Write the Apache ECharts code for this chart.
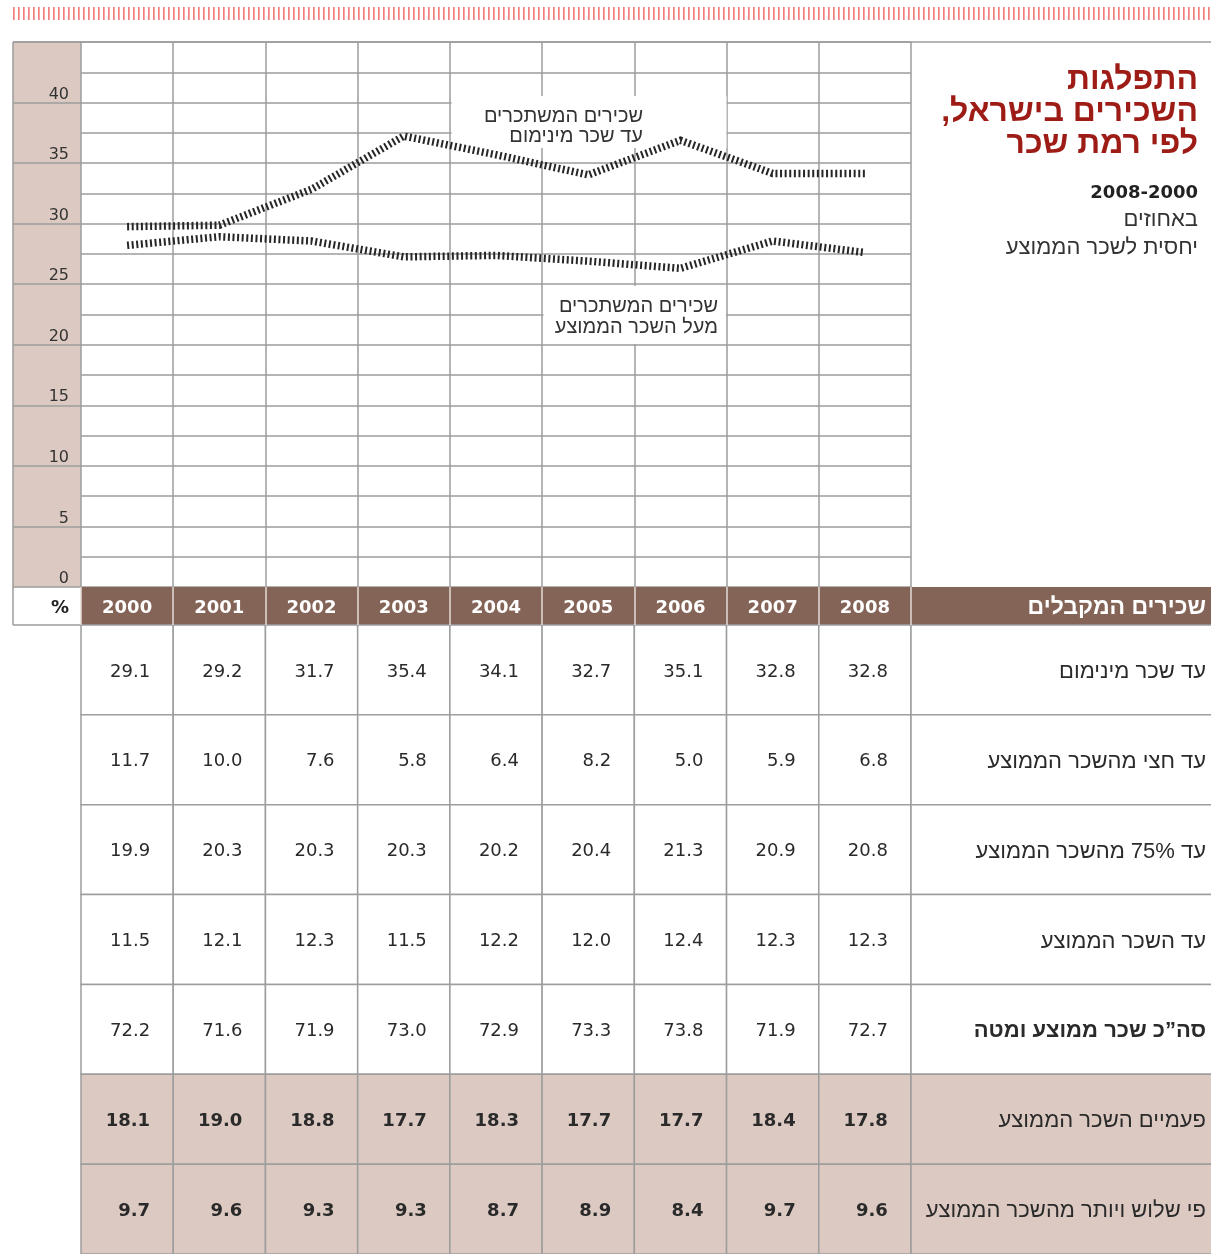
<!DOCTYPE html>
<html><head><meta charset="utf-8">
<script src="https://cdn.jsdelivr.net/npm/echarts@6/dist/echarts.min.js"></script>
<style>html,body{margin:0;padding:0;background:#fff}#c{width:1211px;height:1254px}</style>
</head><body><div id="c" dir="rtl"></div>
<script>
// ---------- data ----------
const years = ['2000','2001','2002','2003','2004','2005','2006','2007','2008'];
const minWage    = [29.1, 29.2, 31.7, 35.4, 34.1, 32.7, 35.1, 32.8, 32.8];
const halfAvg    = [11.7, 10.0, 7.6, 5.8, 6.4, 8.2, 5.0, 5.9, 6.8];
const upTo75     = [19.9, 20.3, 20.3, 20.3, 20.2, 20.4, 21.3, 20.9, 20.8];
const upToAvg    = [11.5, 12.1, 12.3, 11.5, 12.2, 12.0, 12.4, 12.3, 12.3];
const totalBelow = [72.2, 71.6, 71.9, 73.0, 72.9, 73.3, 73.8, 71.9, 72.7];
const twiceAvg   = [18.1, 19.0, 18.8, 17.7, 18.3, 17.7, 17.7, 18.4, 17.8];
const thriceAvg  = [9.7, 9.6, 9.3, 9.3, 8.7, 8.9, 8.4, 9.7, 9.6];
const aboveAvg   = [27.8, 28.4, 28.1, 27.0, 27.1, 26.7, 26.2, 28.1, 27.3];
const rowLabels = ['עד שכר מינימום','עד חצי מהשכר הממוצע','עד 75% מהשכר הממוצע','עד השכר הממוצע','סה”כ שכר ממוצע ומטה','פעמיים השכר הממוצע','פי שלוש ויותר מהשכר הממוצע'];
const yTickLabels = ['0','5','10','15','20','25','30','35','40'];
const titleLines = ['התפלגות','השכירים בישראל,','לפי רמת שכר'];
const subPeriod = '2008-2000';
const subUnits = ['באחוזים','יחסית לשכר הממוצע'];
const headerLabel = 'שכירים המקבלים';
const lineLabelMin = ['שכירים המשתכרים','עד שכר מינימום'];
const lineLabelAbove = ['שכירים המשתכרים','מעל השכר הממוצע'];

// ---------- styling ----------
const W = 1211, H = 1254;
const TAN = '#dccac2', BROWN = '#856458', GRID = '#9d9d9d', INK = '#333333', RED = '#9e1c16';
const NUM = '"DejaVu Sans", sans-serif';
const HEB = '"Liberation Sans", "DejaVu Sans", sans-serif';
const tableRows = [minWage, halfAvg, upTo75, upToAvg, totalBelow, twiceAvg, thriceAvg];
const boldRows = [5, 6];
const shadedRows = [5, 6];

const cellData = [];
tableRows.forEach((row, r) => row.forEach((v, c) => cellData.push([c, r, v])));

const chart = echarts.init(document.getElementById('c'), null, {renderer: 'canvas'});
const splitLS = {color: GRID, width: 1.5};
const hatched = (col) => ({color: col, width: 7.5, type: [2, 2.6], cap: 'butt', join: 'miter'});

chart.setOption({
  animation: false,
  backgroundColor: '#fff',
  grid: [
    {left: 81, top: 42, width: 830, height: 545},
    {left: 13, top: 42, width: 68, height: 545, show: true, backgroundColor: TAN, borderWidth: 0},
    {left: 81, top: 625, width: 830, height: 635}
  ],
  xAxis: [
    {gridIndex: 0, type: 'category', data: years, boundaryGap: true,
     axisLine: {show: false}, axisTick: {show: false}, axisLabel: {show: false},
     splitLine: {show: true, interval: 0, lineStyle: splitLS}},
    {gridIndex: 1, type: 'value', show: false},
    {gridIndex: 2, type: 'category', data: years, position: 'top', boundaryGap: true, z: 10,
     axisLine: {show: false},
     axisTick: {show: true, interval: 0, length: 38, lineStyle: {color: '#e4dad6', width: 1.5}},
     axisLabel: {interval: 0, color: '#fff', fontWeight: 'bold', fontSize: 18, fontFamily: NUM, margin: 17, verticalAlign: 'middle'},
     splitLine: {show: false}}
  ],
  yAxis: [
    {gridIndex: 0, type: 'value', min: 0, max: 45, interval: 2.5,
     axisLine: {show: false}, axisTick: {show: false}, axisLabel: {show: false},
     splitLine: {show: true, lineStyle: splitLS}},
    {gridIndex: 0, type: 'value', min: 4.04, max: 41.94, show: false},
    {gridIndex: 1, type: 'value', min: 0, max: 45, interval: 5,
     axisLine: {show: false}, axisTick: {show: false},
     axisLabel: {inside: true, align: 'right', margin: 56, verticalAlign: 'bottom', color: INK, fontSize: 16, fontFamily: NUM,
       formatter: (v) => { const i = Math.round(v / 5); return i < yTickLabels.length ? yTickLabels[i] : ''; }},
     splitLine: {show: true, lineStyle: splitLS}},
    {gridIndex: 2, type: 'category', data: rowLabels, inverse: true, show: false}
  ],
  series: [
    {type: 'line', name: 'min', xAxisIndex: 0, yAxisIndex: 1, data: minWage, symbol: 'none', z: 5, silent: true, lineStyle: hatched('#262626')},
    {type: 'line', name: 'above', xAxisIndex: 0, yAxisIndex: 1, data: aboveAvg, symbol: 'none', z: 5, silent: true, lineStyle: hatched('#262626')},
    {type: 'custom', name: 'cells', xAxisIndex: 2, yAxisIndex: 3, data: cellData, z: 2, silent: true,
     renderItem: function (params, api) {
       const c = api.value(0), r = api.value(1), v = api.value(2);
       const p = api.coord([c, r]); const s = api.size([1, 1]);
       const shaded = shadedRows.indexOf(r) >= 0, bold = boldRows.indexOf(r) >= 0;
       return {type: 'group', children: [
         {type: 'rect', shape: {x: p[0] - s[0] / 2, y: p[1] - s[1] / 2, width: s[0], height: s[1]},
          style: {fill: shaded ? TAN : '#fff', stroke: GRID, lineWidth: 1.5}},
         {type: 'text', style: {x: p[0] + 23, y: p[1] + 2, text: v.toFixed(1), align: 'right', verticalAlign: 'middle',
          fill: '#2a2a2a', font: (bold ? 'bold ' : '') + '18px ' + NUM}}
       ]};
     }},
    {type: 'custom', name: 'rowlabels', xAxisIndex: 2, yAxisIndex: 3, z: 2, silent: true,
     data: rowLabels.map((l, i) => [8, i]),
     renderItem: function (params, api) {
       const r = api.value(1);
       const p = api.coord([8, r]); const s = api.size([1, 1]);
       const cs = params.coordSys; const x0 = cs.x + cs.width; const w = api.getWidth();
       const shaded = shadedRows.indexOf(r) >= 0;
       return {type: 'group', children: [
         {type: 'rect', shape: {x: x0, y: p[1] - s[1] / 2, width: w - x0 + 2, height: s[1]},
          style: {fill: shaded ? TAN : '#fff', stroke: GRID, lineWidth: 1.5}},
         {type: 'text', style: {x: w - 5, y: p[1] + 2, text: rowLabels[r], align: 'right', verticalAlign: 'middle',
          fill: '#2a2a2a', font: (r === 4 ? 'bold ' : '') + '22px ' + HEB}}
       ]};
     }}
  ],
  graphic: [
    {type: 'line', z: 1, silent: true, shape: {x1: 13, y1: 13.5, x2: W, y2: 13.5}, style: {stroke: '#f27e7e', lineWidth: 13, lineDash: [1.7, 3.3]}},
    {type: 'rect', z: 1, silent: true, shape: {x: 81, y: 587, width: W - 81, height: 38}, style: {fill: BROWN}},
    {type: 'line', z: 6, silent: true, shape: {x1: 13, y1: 42, x2: W, y2: 42}, style: {stroke: GRID, lineWidth: 1.5}},
    {type: 'line', z: 6, silent: true, shape: {x1: 13, y1: 42, x2: 13, y2: 625}, style: {stroke: GRID, lineWidth: 1.5}},
    {type: 'line', z: 6, silent: true, shape: {x1: 13, y1: 625, x2: 81, y2: 625}, style: {stroke: GRID, lineWidth: 1.5}},
    {type: 'text', z: 20, silent: true, style: {x: 69, y: 608, text: '%', align: 'right', verticalAlign: 'middle', fill: '#222', font: 'bold 18px ' + NUM}},
    {type: 'text', z: 20, silent: true, style: {x: W - 5, y: 608, text: headerLabel, align: 'right', verticalAlign: 'middle', fill: '#fff', font: 'bold 23px ' + HEB}},
    // title block
    {type: 'text', z: 20, silent: true, style: {x: 1198, y: 64, text: titleLines.join('\n'), align: 'right', verticalAlign: 'top', lineHeight: 32, fill: RED, font: 'bold 32px ' + HEB}},
    {type: 'text', z: 20, silent: true, style: {x: 1198, y: 193, text: subPeriod, align: 'right', verticalAlign: 'middle', fill: '#222', font: 'bold 18px ' + NUM}},
    {type: 'text', z: 20, silent: true, style: {x: 1198, y: 206, text: subUnits.join('\n'), align: 'right', verticalAlign: 'top', lineHeight: 28, fill: INK, font: '22px ' + HEB}},
    // label boxes in the plot
    {type: 'rect', z: 3, silent: true, shape: {x: 451.5, y: 96, width: 275, height: 52}, style: {fill: '#fff'}},
    {type: 'text', z: 4, silent: true, style: {x: 643, y: 106, text: lineLabelMin.join('\n'), align: 'right', verticalAlign: 'top', lineHeight: 20, fill: INK, font: '20px ' + HEB}},
    {type: 'rect', z: 3, silent: true, shape: {x: 543.5, y: 286, width: 182.5, height: 58}, style: {fill: '#fff'}},
    {type: 'text', z: 4, silent: true, style: {x: 718, y: 295.5, text: lineLabelAbove.join('\n'), align: 'right', verticalAlign: 'top', lineHeight: 21, fill: INK, font: '20px ' + HEB}}
  ]
});
</script></body></html>
